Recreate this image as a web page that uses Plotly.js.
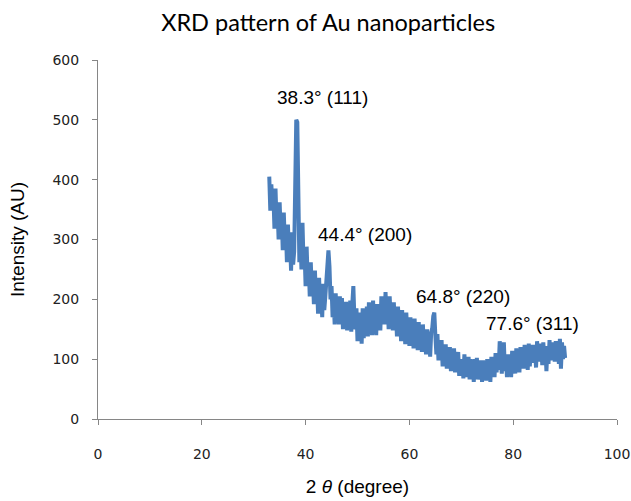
<!DOCTYPE html>
<html>
<head>
<meta charset="utf-8">
<script src="https://cdn.plot.ly/plotly-3.0.1.min.js"></script>
<style>html,body{margin:0;padding:0;background:#fff;}#chart{width:631px;height:501px;}</style>
</head>
<body>
<div id="chart"></div>
<script>
// 2θ sampling (degrees)
const thetaStart = 33.0;
const thetaStep = 0.2;

// Intensity (AU), one row per degree (x.0, x.2, x.4, x.6, x.8)
const intensity = [
  405, 348, 392, 355, 372,   // 33
  318, 385, 330, 352, 300,   // 34
  362, 310, 338, 282, 345,   // 35
  292, 318, 262, 325, 270,   // 36
  296, 248, 312, 258, 280,   // 37
  420, 500, 496, 385, 262,   // 38
  305, 250, 328, 262, 282,   // 39
  222, 288, 232, 258, 205,   // 40
  262, 212, 238, 192, 248,   // 41
  198, 228, 176, 236, 190,   // 42
  212, 170, 226, 182, 205,   // 43
  238, 265, 282, 255, 200,   // 44
  222, 170, 202, 158, 210,   // 45
  168, 195, 158, 205, 165,   // 46
  202, 150, 185, 160, 196,   // 47
  148, 190, 158, 198, 146,   // 48
  192, 222, 168, 150, 185,   // 49
  130, 178, 138, 168, 126,   // 50
  185, 135, 172, 148, 188,   // 51
  138, 195, 150, 178, 140,   // 52
  198, 150, 182, 140, 192,   // 53
  158, 188, 148, 205, 165,   // 54
  198, 158, 212, 170, 200,   // 55
  150, 205, 162, 192, 148,   // 56
  195, 152, 180, 138, 188,   // 57
  145, 172, 130, 182, 135,   // 58
  165, 125, 178, 138, 160,   // 59
  122, 170, 130, 155, 118,   // 60
  168, 128, 152, 115, 162,   // 61
  120, 150, 112, 158, 118,   // 62
  142, 108, 150, 114, 138,   // 63
  104, 145, 152, 172, 178,   // 64
  140, 108, 142,  98, 128,   // 65
  100, 132,  88, 122,  96,   // 66
  125,  84, 115,  92, 120,   // 67
   80, 112,  86, 118,  78,   // 68
  108,  82, 112,  72, 100,   // 69
   78,  98,  68, 108,  74,   // 70
   96,  70, 104,  66, 100,   // 71
   72,  92,  62, 100,  68,   // 72
  102,  66,  94,  72,  98,   // 73
   62,  98,  68,  90,  64,   // 74
  100,  68,  92,  62, 104,   // 75
   74,  98,  70, 110,  78,   // 76
  104,  82, 130,  98,  76,   // 77
  112, 128,  80, 104,  70,   // 78
  108,  76, 100,  70, 114,   // 79
   82, 106,  76, 118,  86,   // 80
  110,  78, 120,  88, 116,   // 81
   84, 124,  90, 112,  82,   // 82
  126,  88, 118,  98, 124,   // 83
   94, 120,  86, 130,  98,   // 84
  118,  96, 126,  90, 128,   // 85
  100, 122,  80, 118,  92,   // 86
  132,  98, 124, 104, 128,   // 87
   96, 130, 100, 126,  92,   // 88
  134,  84, 128, 100, 122,   // 89
  102                        // 90
];

const twoTheta = intensity.map((_, i) => +(thetaStart + i * thetaStep).toFixed(2));

// Peak labels
const peakLabels = ['38.3° (111)', '44.4° (200)', '64.8° (220)', '77.6° (311)'];
const peakLabelX = [43.3, 51.5, 70.3, 83.8];
const peakLabelY = [538, 308, 204, 160];

const xTicks = [0, 20, 40, 60, 80, 100];
const yTicks = [0, 100, 200, 300, 400, 500, 600];

const trace = {
  x: twoTheta,
  y: intensity,
  type: 'scatter',
  mode: 'lines',
  line: {color: '#4a7ebb', width: 4},
  hoverinfo: 'x+y'
};

const annotations = peakLabels.map((t, i) => ({
  x: peakLabelX[i], y: peakLabelY[i], xref: 'x', yref: 'y',
  text: t, showarrow: false, xanchor: 'center', yanchor: 'middle',
  font: {family: 'Liberation Sans, Arial, sans-serif', size: 19, color: '#000'}
}));

const axisCommon = {
  showgrid: false, zeroline: false, showline: true,
  linecolor: '#868686', linewidth: 1,
  ticks: 'outside', ticklen: 5, tickcolor: '#868686', tickwidth: 1,
  tickfont: {family: 'DejaVu Sans, Verdana, sans-serif', size: 14, color: '#222'}
};

const layout = {
  width: 631, height: 501,
  margin: {l: 98, r: 14, t: 60, b: 82},
  paper_bgcolor: '#fff', plot_bgcolor: '#fff',
  showlegend: false,
  title: {
    text: 'XRD pattern of Au nanoparticles',
    x: 0.52, xref: 'container', xanchor: 'center',
    y: 0.954, yref: 'container', yanchor: 'middle',
    font: {family: 'Lato, Open Sans, sans-serif', size: 23.5, color: '#000'}
  },
  xaxis: Object.assign({}, axisCommon, {
    range: [0, 100], tickvals: xTicks, ticktext: xTicks.map(String),
    ticklabelstandoff: 17,
    title: {text: '2 <i>θ</i> (degree)', standoff: 18,
      font: {family: 'Liberation Sans, Arial, sans-serif', size: 19, color: '#000'}}
  }),
  yaxis: Object.assign({}, axisCommon, {
    range: [0, 600], tickvals: yTicks, ticktext: yTicks.map(String),
    ticklabelstandoff: 10,
    title: {text: 'Intensity (AU)', standoff: 22,
      font: {family: 'Liberation Sans, Arial, sans-serif', size: 19, color: '#000'}}
  }),
  annotations: annotations
};

Plotly.newPlot('chart', [trace], layout, {displayModeBar: false, staticPlot: true});
</script>
</body>
</html>
